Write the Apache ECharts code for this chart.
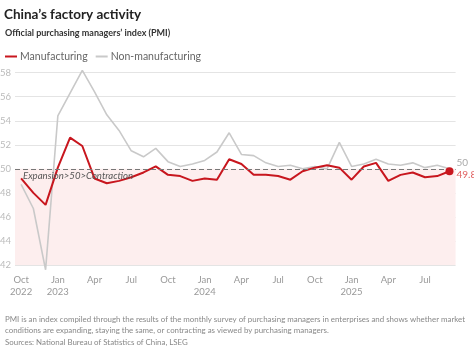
<!DOCTYPE html>
<html><head><meta charset="utf-8">
<script src="https://cdn.jsdelivr.net/npm/echarts@6/dist/echarts.min.js"></script>
<style>html,body{margin:0;padding:0;background:#fff}#c{width:474px;height:346px}</style>
</head><body><div id="c"></div>
<script>
var months = ['Oct\n2022','Nov','Dec',
  'Jan\n2023','Feb','Mar','Apr','May','Jun','Jul','Aug','Sep','Oct','Nov','Dec',
  'Jan\n2024','Feb','Mar','Apr','May','Jun','Jul','Aug','Sep','Oct','Nov','Dec',
  'Jan\n2025','Feb','Mar','Apr','May','Jun','Jul','Aug','Sep'];
var manufacturing = [49.2,48.0,47.0,
  50.1,52.6,51.9,49.2,48.8,49.0,49.3,49.7,50.2,49.5,49.4,49.0,
  49.2,49.1,50.8,50.4,49.5,49.5,49.4,49.1,49.8,50.1,50.3,50.1,
  49.1,50.2,50.5,49.0,49.5,49.7,49.3,49.4,49.8];
var nonManufacturing = [48.7,46.7,41.6,
  54.4,56.3,58.2,56.4,54.5,53.2,51.5,51.0,51.7,50.6,50.2,50.4,
  50.7,51.4,53.0,51.2,51.1,50.5,50.2,50.3,50.0,50.2,50.0,52.2,
  50.2,50.4,50.8,50.4,50.3,50.5,50.1,50.3,50.0];
var yTicks = [42,44,46,48,50,52,54,56,58];
var threshold = 50;
var shadeBottom = 41.75;

var FONT = 'Lato';
var RED = '#c8161e';
var GREY = '#c9c9c9';
var last = months.length - 1;

var chart = echarts.init(document.getElementById('c'), null, {renderer:'canvas'});
chart.setOption({
  animation: false,
  textStyle: {fontFamily: FONT},
  title: [
    {text: 'China\u2019s factory activity', left: -1, top: 3,
     textStyle: {fontFamily: FONT, fontSize: 13.5, fontWeight: 'bold', color: '#222'}},
    {text: 'Official purchasing managers\u2019 index (PMI)', left: 0, top: 24,
     textStyle: {fontFamily: FONT, fontSize: 9, fontWeight: 'bold', color: '#333'}},
    {text: 'PMI is an index compiled through the results of the monthly survey of purchasing managers in enterprises and shows whether market\nconditions are expanding, staying the same, or contracting as viewed by purchasing managers.',
     left: 0, top: 309,
     textStyle: {fontFamily: FONT, fontSize: 7.9, fontWeight: 'normal', color: '#888', lineHeight: 11}},
    {text: 'Sources: National Bureau of Statistics of China, LSEG', left: 0, top: 333,
     textStyle: {fontFamily: FONT, fontSize: 7.9, fontWeight: 'normal', color: '#888'}}
  ],
  legend: {
    left: 0, top: 46, itemGap: 8, itemWidth: 12, itemHeight: 2, icon: 'rect',
    textStyle: {fontFamily: FONT, fontSize: 10.5, color: '#666', padding: [0,0,0,-2]},
    data: ['Manufacturing', 'Non-manufacturing']
  },
  grid: {left: 15, width: 440.6, top: 72.7, bottom: 81, outerBoundsMode: 'none', containLabel: false},
  xAxis: {
    type: 'category', data: months, boundaryGap: true,
    axisLine: {show: false}, axisTick: {show: false},
    axisLabel: {interval: 2, color: '#999', fontSize: 9.5, fontFamily: FONT, margin: 9, lineHeight: 12}
  },
  yAxis: {
    type: 'value', min: 42, max: 58, interval: 2,
    axisLine: {show: false}, axisTick: {show: false},
    axisLabel: {color: '#bbb', fontSize: 9.5, fontFamily: FONT, margin: 4,
      formatter: function(v){ return yTicks.indexOf(v) >= 0 ? String(v) : ''; }},
    splitLine: {lineStyle: {color: '#e4e4e4', width: 1}}
  },
  series: [
    {
      name: 'Non-manufacturing', type: 'line', data: nonManufacturing, clip: false,
      symbol: 'none', lineStyle: {color: GREY, width: 1.6}, itemStyle: {color: GREY},
      z: 3,
      endLabel: {show: true, formatter: function(p){ return String(p.value); },
        color: '#aaa', fontSize: 10, fontFamily: FONT, distance: 0, offset: [7, -6]}
    },
    {
      name: 'Manufacturing', type: 'line', data: manufacturing, clip: false,
      symbol: 'none', lineStyle: {color: RED, width: 2}, itemStyle: {color: RED},
      z: 4,
      endLabel: {show: true, formatter: function(p){ return Number(p.value).toFixed(1); },
        color: '#e06060', fontSize: 10, fontFamily: FONT, distance: 0, offset: [7, 4]},
      markArea: {silent: true, itemStyle: {color: '#fdeeee'},
        data: [[{yAxis: threshold}, {yAxis: shadeBottom}]]},
      markLine: {silent: true, symbol: 'none', label: {show: false},
        lineStyle: {color: '#777', type: [5, 3], width: 1},
        data: [{yAxis: threshold}]},
      markPoint: {silent: true, symbol: 'circle', symbolSize: 8,
        itemStyle: {color: RED}, label: {show: false},
        data: [{coord: [last, manufacturing[last]]}]}
    }
  ],
  graphic: [
    {type: 'text', left: 23, top: 171, z: 10,
     style: {text: 'Expansion>50>Contraction', fontFamily: FONT, fontSize: 9.6,
       fontStyle: 'italic', fill: '#555'}}
  ]
});
</script></body></html>
